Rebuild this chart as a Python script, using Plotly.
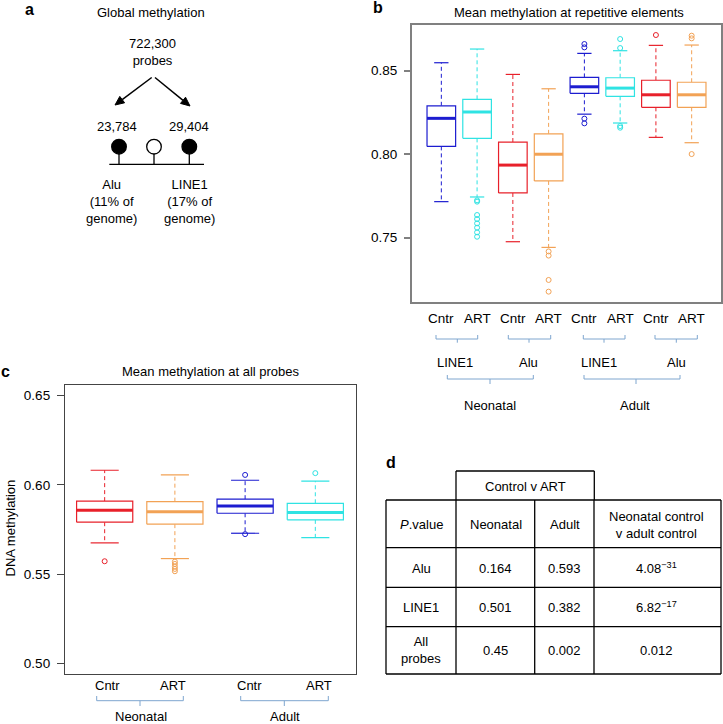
import math
import plotly.graph_objects as go

W, H = 723, 724

# ---- panel a: probe counts ----
total_probes = "722,300"
alu_probes = "23,784"
line1_probes = "29,404"
alu_share = "11% of"
line1_share = "17% of"

# ---- panel b: mean methylation at repetitive elements ----
rep_labels = ["Cntr", "ART", "Cntr", "ART", "Cntr", "ART", "Cntr", "ART"]
rep_elements = ["LINE1", "Alu", "LINE1", "Alu"]
rep_ages = ["Neonatal", "Adult"]
rep_colors = ["#1c1cd0", "#2fe3e3", "#e8202a", "#f2a255"] * 2
rep_upper = [0.8548, 0.8630, 0.8478, 0.8392, 0.8604, 0.8620, 0.8652, 0.8654]
rep_q3 = [0.8290, 0.8329, 0.8073, 0.8122, 0.8460, 0.8458, 0.8443, 0.8431]
rep_median = [0.8215, 0.8253, 0.7935, 0.8000, 0.8404, 0.8396, 0.8356, 0.8356]
rep_q1 = [0.8047, 0.8095, 0.7768, 0.7840, 0.8365, 0.8347, 0.8281, 0.8281]
rep_lower = [0.7716, 0.7744, 0.7476, 0.7442, 0.8240, 0.8187, 0.8101, 0.8069]
rep_outliers = [
    [],
    [0.7724, 0.7716, 0.7636, 0.7612, 0.7586, 0.7560, 0.7532, 0.7506],
    [],
    [0.7418, 0.7393, 0.7247, 0.7177],
    [0.8660, 0.8640, 0.8213, 0.8185],
    [0.8690, 0.8636, 0.8169, 0.8159],
    [0.8714],
    [0.8710, 0.8694, 0.8001],
]
rep_yticks = [0.75, 0.80, 0.85]

# ---- panel c: mean methylation at all probes ----
all_labels = ["Cntr", "ART", "Cntr", "ART"]
all_ages = ["Neonatal", "Adult"]
all_colors = ["#e8202a", "#f2a255", "#1c1cd0", "#2fe3e3"]
all_upper = [0.6082, 0.6056, 0.6026, 0.6021]
all_q3 = [0.5909, 0.5906, 0.5920, 0.5897]
all_median = [0.5858, 0.5849, 0.5882, 0.5845]
all_q1 = [0.5791, 0.5780, 0.5841, 0.5804]
all_lower = [0.5675, 0.5587, 0.5729, 0.5705]
all_outliers = [[0.5572], [0.5570, 0.5557, 0.5542, 0.5529, 0.5516], [0.6056, 0.5724], [0.6066]]
all_yticks = [0.50, 0.55, 0.60, 0.65]

# ---- panel d: p values ----
tbl_rows = ["Alu", "LINE1", "All<br>probes"]
tbl_neonatal = ["0.164", "0.501", "0.45"]
tbl_adult = ["0.593", "0.382", "0.002"]
tbl_between = ["4.08<sup>\u221231</sup>", "6.82<sup>\u221217</sup>", "0.012"]

FONT = "Liberation Sans, Arial, sans-serif"


def X(px):
    return px / W


def Y(py):
    return 1 - py / H


def add_boxes(fig, colors, lower, q1, med, q3, upper, outliers, xa, ya):
    for i in range(len(colors)):
        p = i + 1
        c = colors[i]
        common = dict(xaxis=xa, yaxis=ya, showlegend=False, hoverinfo="skip")
        fig.add_trace(go.Scatter(x=[p, p, None, p, p], y=[q3[i], upper[i], None, q1[i], lower[i]],
                                 mode="lines", line=dict(color=c, width=1, dash="4px,3px"), **common))
        fig.add_trace(go.Scatter(x=[p - 0.2, p + 0.2, None, p - 0.2, p + 0.2],
                                 y=[upper[i], upper[i], None, lower[i], lower[i]],
                                 mode="lines", line=dict(color=c, width=1.2), **common))
        fig.add_trace(go.Scatter(x=[p - 0.4, p + 0.4, p + 0.4, p - 0.4, p - 0.4],
                                 y=[q1[i], q1[i], q3[i], q3[i], q1[i]],
                                 mode="lines", line=dict(color=c, width=1.2), fill="toself",
                                 fillcolor="white", **common))
        fig.add_trace(go.Scatter(x=[p - 0.4, p + 0.4], y=[med[i], med[i]],
                                 mode="lines", line=dict(color=c, width=3), **common))
        if outliers[i]:
            fig.add_trace(go.Scatter(x=[p] * len(outliers[i]), y=outliers[i], mode="markers",
                                     marker=dict(symbol="circle-open", size=5, color=c, line=dict(width=1)),
                                     **common))


def text(fig, s, px, py, size=13, **kw):
    fig.add_annotation(text=s, x=X(px), y=Y(py), xref="paper", yref="paper", showarrow=False,
                       xanchor="center", yanchor="middle", font=dict(size=size, color="black", family=FONT), **kw)


def line(fig, x0, y0, x1, y1, color="black", width=1.3):
    fig.add_shape(type="line", xref="paper", yref="paper", x0=X(x0), y0=Y(y0), x1=X(x1), y1=Y(y1),
                  line=dict(color=color, width=width))


def arrow(fig, tx, ty, hx, hy, head=9, half=4):
    dx, dy = hx - tx, hy - ty
    n = math.hypot(dx, dy)
    ux, uy = dx / n, dy / n
    bx, by = hx - head * ux, hy - head * uy
    line(fig, tx, ty, bx, by, width=1.5)
    pts = [(hx, hy), (bx - half * uy, by + half * ux), (bx + half * uy, by - half * ux)]
    path = "M " + " L ".join(f"{X(a)},{Y(b)}" for a, b in pts) + " Z"
    fig.add_shape(type="path", xref="paper", yref="paper", path=path, fillcolor="black",
                  line=dict(color="black", width=1))


def bracket(fig, x0, x1, xc, ytop, ymid, ybot):
    path = (f"M {X(x0)},{Y(ytop)} L {X(x0)},{Y(ymid)} L {X(x1)},{Y(ymid)} L {X(x1)},{Y(ytop)} "
            f"M {X(xc)},{Y(ymid)} L {X(xc)},{Y(ybot)}")
    fig.add_shape(type="path", xref="paper", yref="paper", path=path, line=dict(color="#7ea6cf", width=1))


fig = go.Figure()
add_boxes(fig, rep_colors, rep_lower, rep_q1, rep_median, rep_q3, rep_upper, rep_outliers, "x", "y")
add_boxes(fig, all_colors, all_lower, all_q1, all_median, all_q3, all_upper, all_outliers, "x2", "y2")

frame_b = dict(showgrid=False, zeroline=False, showline=True, mirror=True, linecolor="#808080", linewidth=2)
frame_c = dict(showgrid=False, zeroline=False, showline=True, mirror=True, linecolor="#444444", linewidth=1.3)

fig.update_layout(
    width=W, height=H, margin=dict(l=0, r=0, t=0, b=0),
    paper_bgcolor="white", plot_bgcolor="white",
    font=dict(family=FONT, size=13, color="black"),
    xaxis=dict(domain=[X(412), X(721)], range=[0.18, 8.82], showticklabels=False, ticks="",
               anchor="y", **frame_b),
    yaxis=dict(domain=[Y(302), Y(25)], range=[0.7115, 0.8774], tickvals=rep_yticks,
               ticktext=[f"{v:.2f}" for v in rep_yticks], ticks="outside", ticklen=6, tickwidth=1.5,
               tickcolor="#808080", ticklabelstandoff=4, tickfont=dict(size=13.5), anchor="x", **frame_b),
    xaxis2=dict(domain=[X(65), X(355.7)], range=[0.435, 4.575], showticklabels=False, ticks="",
                anchor="y2", **frame_c),
    yaxis2=dict(domain=[Y(674), Y(385)], range=[0.494, 0.656], tickvals=all_yticks,
                ticktext=[f"{v:.2f}" for v in all_yticks], ticks="outside", ticklen=7, tickwidth=1.2,
                tickcolor="#444444", ticklabelstandoff=4, tickfont=dict(size=13.5), anchor="x2", **frame_c),
)

# panel letters
text(fig, "<b>a</b>", 29, 9, size=16)
text(fig, "<b>b</b>", 378, 7, size=16)
text(fig, "<b>c</b>", 5, 371, size=16)
text(fig, "<b>d</b>", 390.5, 462, size=16)

# ---- panel a diagram ----
text(fig, "Global methylation", 151, 12.5)
text(fig, f"{total_probes}<br>probes", 152.5, 51.5)
arrow(fig, 151.7, 77.5, 115, 105)
arrow(fig, 155, 77.5, 190, 106)
text(fig, alu_probes, 116.7, 126)
text(fig, line1_probes, 188.8, 126)
line(fig, 109.3, 164.3, 204, 164.3)
for cx, filled in [(119, True), (154, False), (189.3, True)]:
    line(fig, cx, 154, cx, 164.3)
    fig.add_shape(type="circle", xref="paper", yref="paper", x0=X(cx - 7.3), x1=X(cx + 7.3),
                  y0=Y(146.7 + 7.3), y1=Y(146.7 - 7.3), line=dict(color="black", width=1.3),
                  fillcolor="black" if filled else "white")
text(fig, f"Alu<br>({alu_share}<br>genome)", 111.5, 201)
text(fig, f"LINE1<br>({line1_share}<br>genome)", 189.5, 201)

# ---- panel b labels ----
text(fig, "Mean methylation at repetitive elements", 568.5, 12.5)
for i, lab in enumerate(rep_labels):
    fig.add_annotation(text=lab, x=i + 1, y=Y(318.3), xref="x", yref="paper", showarrow=False,
                       xanchor="center", yanchor="middle", font=dict(size=13.5))
for x0, x1, xc in [(436, 477.7, 457.3), (508.3, 550.7, 529), (583.3, 625, 604), (655, 697.3, 676.3)]:
    bracket(fig, x0, x1, xc, 335, 339, 342.7)
for lab, cx in zip(rep_elements, [455, 528.3, 599.3, 676.7]):
    text(fig, lab, cx, 362.3)
for x0, x1, xc in [(447.3, 533.3, 490), (584, 680, 636)]:
    bracket(fig, x0, x1, xc, 375, 379, 384)
for lab, cx in zip(rep_ages, [490, 635.3]):
    text(fig, lab, cx, 405)

# ---- panel c labels ----
text(fig, "Mean methylation at all probes", 211, 371)
text(fig, "DNA methylation", 9.5, 528, textangle=-90)
for lab, cx in zip(all_labels, [107.5, 172.5, 249.5, 318.5]):
    text(fig, lab, cx, 685)
for x0, x1, xc in [(96.7, 183.3, 140), (240.7, 328.3, 284.3)]:
    bracket(fig, x0, x1, xc, 696, 700.7, 706)
for lab, cx in zip(all_ages, [140.5, 285]):
    text(fig, lab, cx, 716.5)

# ---- panel d table ----
col_x = [386, 456, 534.7, 594, 721]
row_y = [500, 547.7, 587.3, 626.7, 674]
line(fig, 456, 471, 594.3, 471)
line(fig, 456, 471, 456, 500)
line(fig, 594.3, 471, 594.3, 500)
for yy in row_y:
    line(fig, col_x[0], yy, col_x[-1], yy)
for xx in col_x:
    line(fig, xx, row_y[0], xx, row_y[-1])
text(fig, "Control v ART", 525, 486.7)
text(fig, "<i>P</i>.value", 421, 524.3)
text(fig, "Neonatal", 495.5, 524.3)
text(fig, "Adult", 564.7, 524.3)
text(fig, "Neonatal control<br>v adult control", 656.7, 524.7)
for r, ry in enumerate([568.3, 607.3, 650.7]):
    text(fig, tbl_rows[r], 421, ry - (1 if r == 2 else 0))
    text(fig, tbl_neonatal[r], 495.5, ry)
    text(fig, tbl_adult[r], 564.7, ry)
    text(fig, tbl_between[r], 656.7, ry)

# the page's default body margin would shift the figure by 8px
fig.write_html("out.html", config={"displayModeBar": False},
               post_script="document.body.style.margin='0';")
